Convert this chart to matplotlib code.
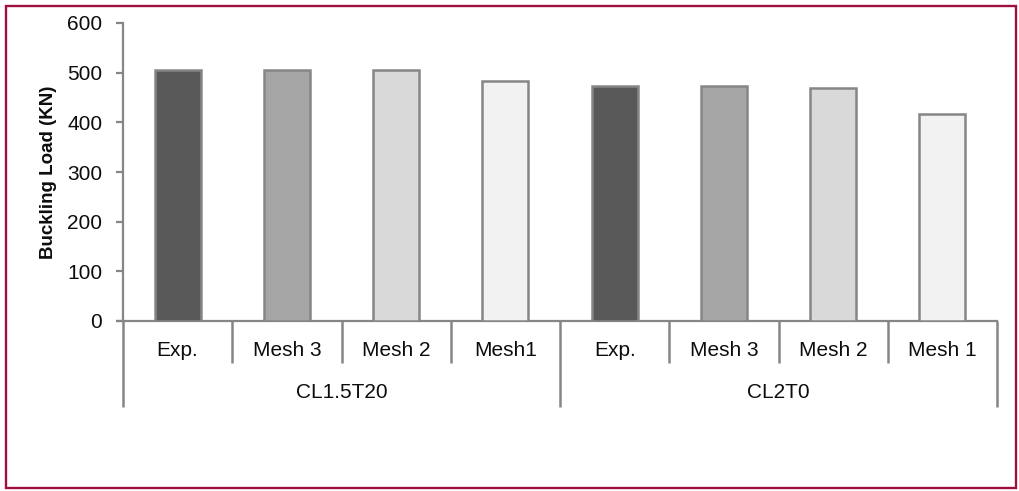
import matplotlib
matplotlib.use("Agg")
import matplotlib.pyplot as plt
from matplotlib.patches import Rectangle

# Buckling load per specimen and model
groups = ["CL1.5T20", "CL2T0"]
categories = [["Exp.", "Mesh 3", "Mesh 2", "Mesh1"],
              ["Exp.", "Mesh 3", "Mesh 2", "Mesh 1"]]
loads_cl15t20 = [505, 505, 505, 483]
loads_cl2t0 = [473, 473, 470, 416]
bar_colors = ["#595959", "#a6a6a6", "#d9d9d9", "#f2f2f2"]
y_ticks = [0, 100, 200, 300, 400, 500, 600]

W, H, DPI = 1019, 491, 100
plt.rcParams["font.family"] = ["Liberation Sans", "DejaVu Sans"]

fig = plt.figure(figsize=(W / DPI, H / DPI), dpi=DPI)
fig.patch.set_facecolor("white")

# axes box in pixel terms
x0, x1, ybot, ytop = 123, 997, 321, 23
ax = fig.add_axes([x0 / W, 1 - ybot / H, (x1 - x0) / W, (ybot - ytop) / H])

grey = "#868686"
values = loads_cl15t20 + loads_cl2t0
colors = bar_colors * 2
positions = list(range(len(values)))
ax.bar(positions, values, width=0.42, color=colors, edgecolor=grey,
       linewidth=1.8, zorder=3)

ax.set_xlim(-0.5, len(values) - 0.5)
ax.set_ylim(0, 600)
ax.set_yticks(y_ticks)
ax.set_xticks([])

for side in ["top", "right"]:
    ax.spines[side].set_visible(False)
for side in ["left", "bottom"]:
    ax.spines[side].set_color(grey)
    ax.spines[side].set_linewidth(1.6)

ax.tick_params(axis="y", direction="out", length=5, width=1.6, color=grey,
               labelsize=15, pad=10, labelcolor="#0d0d0d")
ax.set_ylabel("Buckling Load (KN)", fontsize=13.5, fontweight="bold",
              labelpad=7, color="#0d0d0d")

axh = ybot - ytop
trans = ax.get_xaxis_transform()
y_cat_sep = -(363 - ybot) / axh
y_grp_sep = -(407 - ybot) / axh
y_cat_lbl = -(351 - ybot) / axh
y_grp_lbl = -(393 - ybot) / axh

# x-axis stub to the left, like a tick
ax.plot([-0.5 - 7 / ((x1 - x0) / len(values)), -0.5], [0, 0], transform=trans,
        color=grey, lw=1.6, clip_on=False, solid_capstyle="butt")

n_per = len(categories[0])
for i in range(len(values) + 1):
    xs = i - 0.5
    y_end = y_grp_sep if i % n_per == 0 else y_cat_sep
    ax.plot([xs, xs], [0, y_end], transform=trans, color=grey, lw=1.8,
            clip_on=False, solid_capstyle="butt")

for g, (gname, cats) in enumerate(zip(groups, categories)):
    for j, c in enumerate(cats):
        ax.text(g * n_per + j, y_cat_lbl, c, transform=trans, ha="center",
                va="center", fontsize=15, color="#0d0d0d")
    ax.text(g * n_per + (n_per - 1) / 2, y_grp_lbl, gname, transform=trans,
            ha="center", va="center", fontsize=15, color="#0d0d0d")

# outer frame
fig.patches.append(Rectangle((6 / W, 1 - 488 / H), (1016 - 6) / W, (488 - 6) / H,
                             transform=fig.transFigure, fill=False,
                             edgecolor="#a0103c", linewidth=1.7))

fig.savefig("out.png", dpi=DPI, facecolor="white")
